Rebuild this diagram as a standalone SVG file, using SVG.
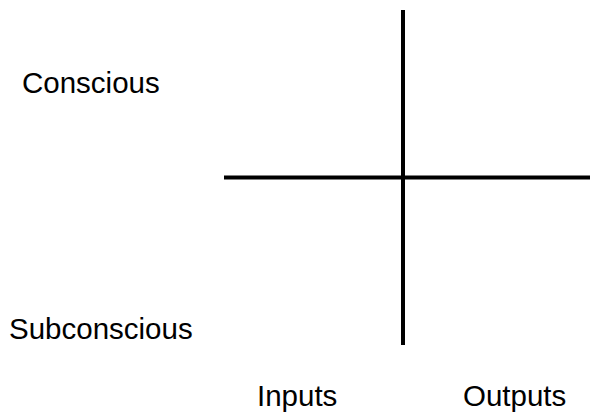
<svg xmlns="http://www.w3.org/2000/svg" width="590" height="417" viewBox="0 0 590 417">
<style>
.lbl{font-family:"Liberation Sans",Arial,sans-serif;font-size:29.5px;fill:#000}
.ax{stroke:#000;stroke-width:4;fill:none}
</style>
<rect width="590" height="417" fill="#fff"/>
<g id="connectors">
<line class="ax" x1="403" y1="10" x2="403" y2="345"/>
<line class="ax" x1="224" y1="177.5" x2="590" y2="177.5"/>
</g>
<g id="conscious"><text class="lbl" x="22" y="93">Conscious</text></g>
<g id="subconscious"><text class="lbl" x="9" y="339">Subconscious</text></g>
<g id="inputs"><text class="lbl" x="257" y="406">Inputs</text></g>
<g id="outputs"><text class="lbl" x="463" y="406">Outputs</text></g>
</svg>
